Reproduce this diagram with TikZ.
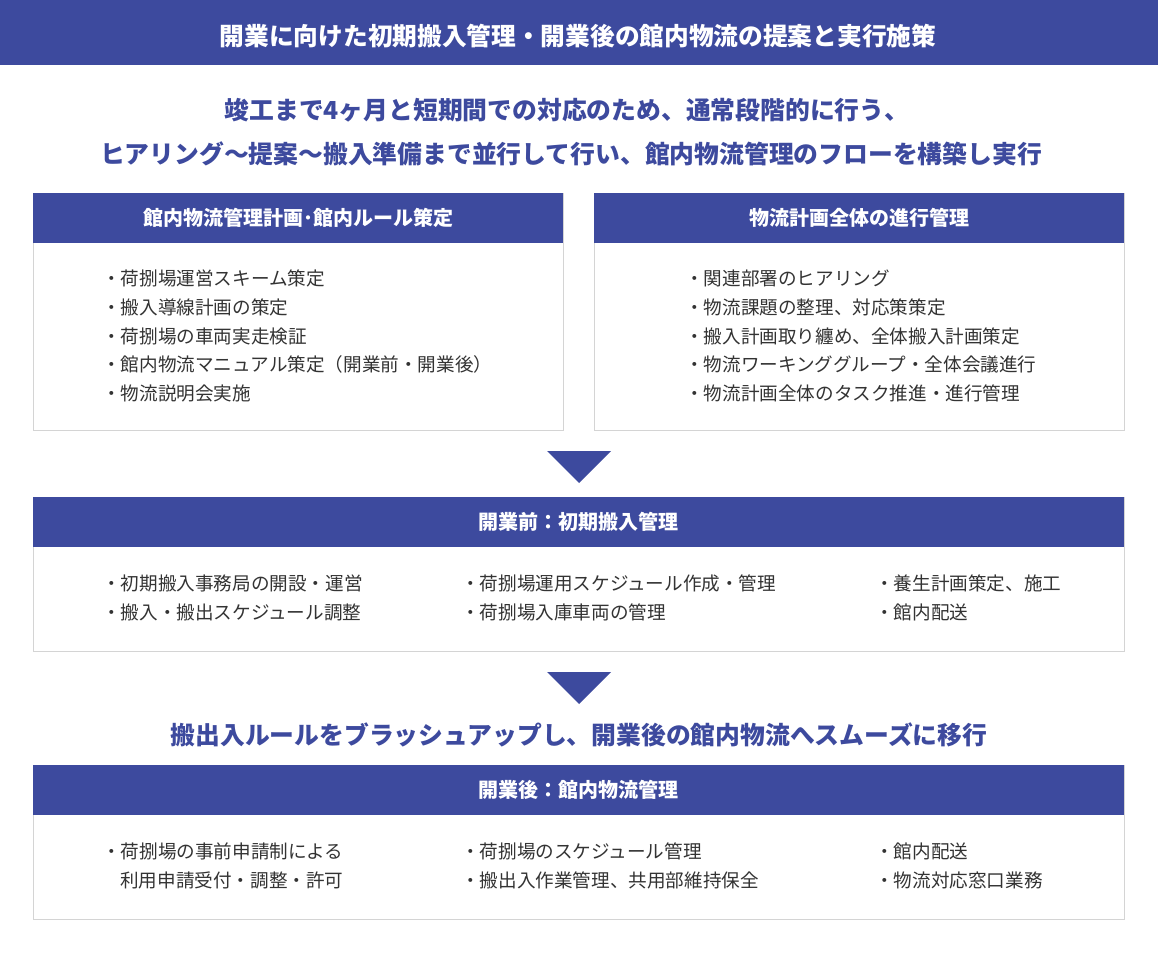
\documentclass[tikz,border=0pt]{standalone}
\usepackage{fontspec}
\setmainfont{Noto Sans CJK JP}
\definecolor{mainblue}{RGB}{61,74,158}
\definecolor{boxgray}{RGB}{212,212,212}
\definecolor{bodytext}{RGB}{51,51,51}
\tikzset{
  hdr/.style={fill=mainblue, text=white, font=\fontsize{20}{24}\selectfont\bfseries,
    minimum height=50pt, inner sep=0pt, anchor=north west},
  bodybox/.style={draw=boxgray, line width=1pt, fill=white, inner sep=0pt, anchor=north west},
  item/.style={anchor=west, inner sep=0pt, text=bodytext, font=\fontsize{18.6}{22}\selectfont},
  lead/.style={text=mainblue, font=\fontsize{24.8}{28}\selectfont\bfseries, inner sep=0pt},
  tri/.style={fill=mainblue, draw=none}
}
\begin{document}
\begin{tikzpicture}[x=1pt,y=-1pt]
\useasboundingbox (0,0) rectangle (1158,960);
% title bar
\node[fill=mainblue, minimum width=1158pt, minimum height=65pt, inner sep=0pt, anchor=north west] (titlebar) at (0,0) {};
\node[text=white, font=\fontsize{24.7}{28}\selectfont\bfseries, inner sep=0pt] (title) at (578,36) {開業に向けた初期搬入管理・開業後の館内物流の提案と実行施策};
% lead text
\node[lead] (lead1) at (567,110) {竣工まで4ヶ月と短期間での対応のため、通常段階的に行う、};
\node[lead] (lead2) at (571,154) {ヒアリング〜提案〜搬入準備まで並行して行い、館内物流管理のフローを構築し実行};
% box 1
\node[bodybox, minimum width=530pt, minimum height=237pt] (b1) at (33,193) {};
\node[hdr, minimum width=530pt] (h1) at (33,193) {館内物流管理計画･館内ルール策定};
\node[item] (b1i1) at (102,278) {・荷捌場運営スキーム策定};
\node[item] (b1i2) at (102,307) {・搬入導線計画の策定};
\node[item] (b1i3) at (102,336) {・荷捌場の車両実走検証};
\node[item] (b1i4) at (102,364) {・館内物流マニュアル策定（開業前・開業後）};
\node[item] (b1i5) at (102,393) {・物流説明会実施};
% box 2
\node[bodybox, minimum width=530pt, minimum height=237pt] (b2) at (594,193) {};
\node[hdr, minimum width=530pt] (h2) at (594,193) {物流計画全体の進行管理};
\node[item] (b2i1) at (685,278) {・関連部署のヒアリング};
\node[item] (b2i2) at (685,307) {・物流課題の整理、対応策策定};
\node[item] (b2i3) at (685,336) {・搬入計画取り纏め、全体搬入計画策定};
\node[item] (b2i4) at (685,364) {・物流ワーキンググループ・全体会議進行};
\node[item] (b2i5) at (685,393) {・物流計画全体のタスク推進・進行管理};
% arrow 1
\fill[tri] (547,451) -- (611,451) -- (579,483) -- cycle;
% box 3
\node[bodybox, minimum width=1091pt, minimum height=154pt] (b3) at (33,497) {};
\node[hdr, minimum width=1091pt] (h3) at (33,497) {開業前：初期搬入管理};
\node[item] (b3a1) at (102,583) {・初期搬入事務局の開設・運営};
\node[item] (b3a2) at (102,612) {・搬入・搬出スケジュール調整};
\node[item] (b3b1) at (461,583) {・荷捌場運用スケジュール作成・管理};
\node[item] (b3b2) at (461,612) {・荷捌場入庫車両の管理};
\node[item] (b3c1) at (875,583) {・養生計画策定、施工};
\node[item] (b3c2) at (875,612) {・館内配送};
% arrow 2
\fill[tri] (547,672) -- (611,672) -- (579,704) -- cycle;
\node[lead] (lead3) at (579,735) {搬出入ルールをブラッシュアップし、開業後の館内物流へスムーズに移行};
% box 4
\node[bodybox, minimum width=1091pt, minimum height=154pt] (b4) at (33,765) {};
\node[hdr, minimum width=1091pt] (h4) at (33,765) {開業後：館内物流管理};
\node[item] (b4a1) at (102,851) {・荷捌場の事前申請制による};
\node[item] (b4a2) at (120,880) {利用申請受付・調整・許可};
\node[item] (b4b1) at (461,851) {・荷捌場のスケジュール管理};
\node[item] (b4b2) at (461,880) {・搬出入作業管理、共用部維持保全};
\node[item] (b4c1) at (875,851) {・館内配送};
\node[item] (b4c2) at (875,880) {・物流対応窓口業務};
\end{tikzpicture}
\end{document}
